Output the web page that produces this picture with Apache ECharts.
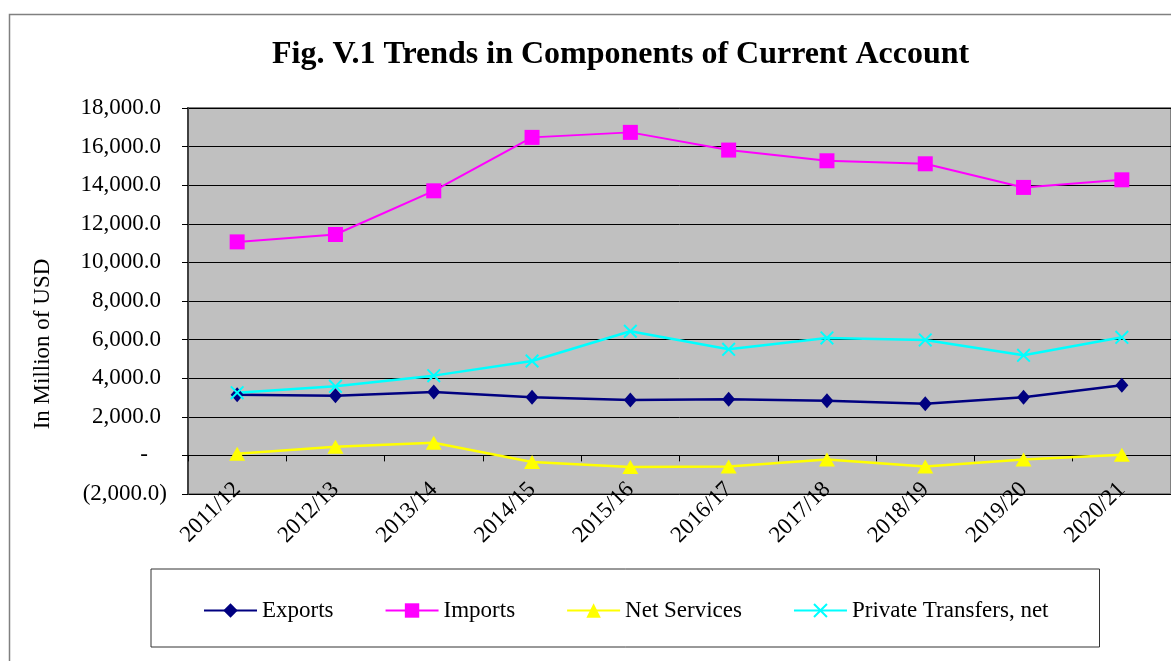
<!DOCTYPE html>
<html>
<head>
<meta charset="utf-8">
<title>Fig. V.1 Trends in Components of Current Account</title>
<script src="https://cdn.jsdelivr.net/npm/echarts@6.0.0/dist/echarts.min.js"></script>
<style>
  html, body { margin: 0; padding: 0; background: #fff; }
  #chart { width: 1171px; height: 661px; }
</style>
</head>
<body>
<div id="chart"></div>
<script>
// fiscal years on the x axis
const years = ['2011/12', '2012/13', '2013/14', '2014/15', '2015/16', '2016/17', '2017/18', '2018/19', '2019/20', '2020/21'];

// values in million USD
const exportsData = [3147, 3095, 3285, 3008, 2870, 2905, 2836, 2680, 3008, 3631];
const importsData = [11063, 11447, 13709, 16478, 16737, 15820, 15265, 15109, 13885, 14279];
const netServices = [88, 451, 659, -347, -607, -570, -207, -570, -207, 36];
const privateTransfers = [3252, 3579, 4133, 4892, 6432, 5498, 6085, 5981, 5187, 6120];

const yMin = -2000;
const yMax = 18000;
const yStep = 2000;

const font = '"Liberation Serif", "Times New Roman", serif';
const crossSymbol = 'path://M0,1L1,0L5,4L9,0L10,1L6,5L10,9L9,10L5,6L1,10L0,9L4,5Z';

function fmtNumber(v) {
  const s = Math.abs(v).toLocaleString('en-US', { minimumFractionDigits: 1, maximumFractionDigits: 1 });
  if (v === 0) return '{z|-}';
  if (v < 0) return '{n|(' + s + ')}';
  return '{p|' + s + '}';
}

function getOption() {
  return {
    animation: false,
    backgroundColor: '#fff',
    textStyle: { fontFamily: font, color: '#000' },
    title: {
      text: 'Fig. V.1 Trends in Components of Current Account',
      left: 267,
      top: 34,
      textStyle: { fontFamily: font, fontSize: 32, fontWeight: 'bold', color: '#000' }
    },
    graphic: [
      {
        type: 'rect',
        silent: true,
        shape: { x: 9.5, y: 14.5, width: 1300, height: 800 },
        style: { fill: 'none', stroke: '#808080', lineWidth: 1.5 }
      },
      {
        type: 'text',
        silent: true,
        x: 43,
        y: 344,
        rotation: Math.PI / 2,
        style: {
          text: 'In Million of USD',
          fontFamily: font,
          fontSize: 23,
          fill: '#000',
          align: 'center',
          verticalAlign: 'middle'
        }
      }
    ],
    legend: {
      left: 151,
      top: 569,
      padding: [30, 51, 25, 52],
      itemWidth: 53,
      itemHeight: 18,
      itemGap: 51,
      borderColor: '#333',
      borderWidth: 1,
      textStyle: { fontFamily: font, fontSize: 23, color: '#000' },
      data: ['Exports', 'Imports', 'Net Services', 'Private Transfers, net']
    },
    grid: {
      left: 188,
      top: 108,
      right: -1,
      bottom: 167,
      show: true,
      backgroundColor: '#C0C0C0',
      borderColor: '#808080',
      borderWidth: 2,
      containLabel: false
    },
    xAxis: {
      type: 'category',
      data: years,
      boundaryGap: true,
      axisLine: { onZero: true, lineStyle: { color: '#000', width: 1 } },
      axisTick: { show: true, length: 6, lineStyle: { color: '#000' } },
      axisLabel: {
        rotate: 45,
        interval: 0,
        margin: -8,
        fontFamily: font,
        fontSize: 23,
        color: '#000'
      },
      splitLine: { show: false }
    },
    yAxis: {
      type: 'value',
      min: yMin,
      max: yMax,
      interval: yStep,
      axisLine: { show: true, lineStyle: { color: '#404040', width: 2 } },
      axisTick: { show: true, length: 6, lineStyle: { color: '#000' } },
      axisLabel: {
        margin: 21,
        formatter: fmtNumber,
        fontFamily: font,
        fontSize: 23,
        color: '#000',
        rich: {
          p: { fontFamily: font, fontSize: 23, color: '#000', padding: [0, 6, 0, 0] },
          n: { fontFamily: font, fontSize: 23, color: '#000' },
          z: { fontFamily: font, fontSize: 23, color: '#000', padding: [0, 19, 0, 0] }
        }
      },
      splitLine: { show: true, lineStyle: { color: '#000', width: 1 } }
    },
    series: [
      {
        name: 'Exports',
        type: 'line',
        data: exportsData,
        symbol: 'diamond',
        symbolSize: [13, 15],
        lineStyle: { color: '#000080', width: 2.5 },
        itemStyle: { color: '#000080' }
      },
      {
        name: 'Imports',
        type: 'line',
        data: importsData,
        symbol: 'rect',
        symbolSize: 15,
        lineStyle: { color: '#FF00FF', width: 2 },
        itemStyle: { color: '#FF00FF' }
      },
      {
        name: 'Net Services',
        type: 'line',
        data: netServices,
        symbol: 'triangle',
        symbolSize: [16, 14],
        lineStyle: { color: '#FFFF00', width: 2.5 },
        itemStyle: { color: '#FFFF00' }
      },
      {
        name: 'Private Transfers, net',
        type: 'line',
        data: privateTransfers,
        symbol: crossSymbol,
        symbolSize: 14,
        lineStyle: { color: '#00FFFF', width: 2.5 },
        itemStyle: { color: '#00FFFF' }
      }
    ]
  };
}

const chart = echarts.init(document.getElementById('chart'));
chart.setOption(getOption());

window.onresize = () => {
  chart.resize();
};
</script>
</body>
</html>
